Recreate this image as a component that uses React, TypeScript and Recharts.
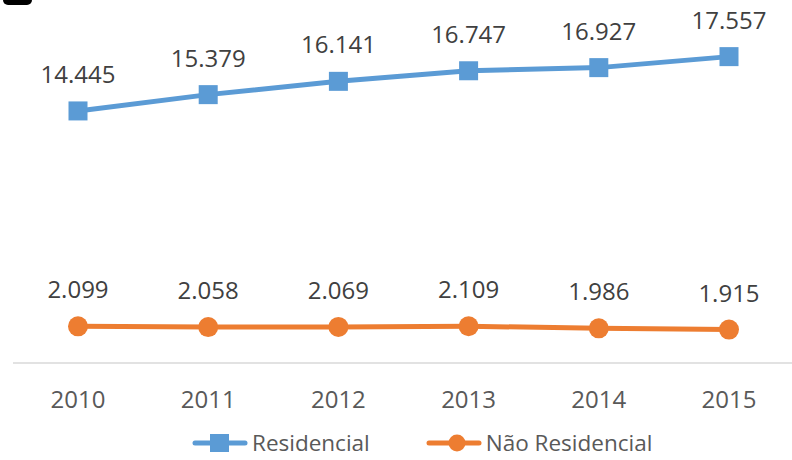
import React from "react";
import { LabelList, Legend, Line, LineChart, XAxis, YAxis } from "recharts";

const years = ["2010", "2011", "2012", "2013", "2014", "2015"];
const residencial = [14.445, 15.379, 16.141, 16.747, 16.927, 17.557];
const naoResidencial = [2.099, 2.058, 2.069, 2.109, 1.986, 1.915];

const BLUE = "#5b9bd5";
const ORANGE = "#ed7d31";
const FONT = "'Open Sans', 'DejaVu Sans', sans-serif";

const data = years.map((year, i) => ({
  year,
  residencial: residencial[i],
  naoResidencial: naoResidencial[i],
}));

// values use a comma-free "14.445" style, three decimals
const formatValue = (v: number) => v.toFixed(3);

function SquareDot(props: any) {
  const { cx, cy } = props;
  if (cx == null || cy == null) return null;
  return <rect x={cx - 9.5} y={cy - 9.5} width={19} height={19} fill={BLUE} />;
}

function RoundDot(props: any) {
  const { cx, cy } = props;
  if (cx == null || cy == null) return null;
  return <circle cx={cx} cy={cy} r={10} fill={ORANGE} />;
}

function LegendIcon(props: { color: string; square?: boolean }) {
  return (
    <svg width={56} height={34} style={{ display: "block" }}>
      <line x1={3} y1={17} x2={53} y2={17} stroke={props.color} strokeWidth={5} strokeLinecap="round" />
      {props.square ? (
        <rect x={18} y={8} width={19} height={18} fill={props.color} />
      ) : (
        <circle cx={31} cy={17} r={8.5} fill={props.color} />
      )}
    </svg>
  );
}

function ChartLegend() {
  const text = { fontFamily: FONT, fontSize: 22.5, color: "#595959", lineHeight: "34px" };
  return (
    <div style={{ display: "flex", alignItems: "center", height: 34, paddingLeft: 192 }}>
      <LegendIcon color={BLUE} square />
      <span style={{ ...text, marginLeft: 4 }}>Residencial</span>
      <span style={{ width: 56 }} />
      <LegendIcon color={ORANGE} />
      <span style={{ ...text, marginLeft: 4 }}>Não Residencial</span>
    </div>
  );
}

const labelStyle = { fill: "#404040", fontSize: 24, fontFamily: FONT };

export default function App() {
  return (
    <div style={{ position: "fixed", left: 0, top: 0, width: 792, height: 460, background: "#fff", overflow: "hidden" }}>
      <LineChart width={792} height={460} data={data} margin={{ top: 14, right: 0, bottom: 0, left: 13 }}>
        <XAxis
          dataKey="year"
          height={63}
          padding={{ left: 65, right: 63 }}
          axisLine={{ stroke: "#d9d9d9", strokeWidth: 1.5 }}
          tickLine={false}
          tickMargin={22}
          tick={{ fill: "#595959", fontSize: 24, fontFamily: FONT }}
        />
        <YAxis hide domain={[0, 20]} />
        <Legend
          verticalAlign="bottom"
          height={34}
          wrapperStyle={{ left: 0, width: 792 }}
          content={() => <ChartLegend />}
        />
        <Line
          dataKey="residencial"
          name="Residencial"
          stroke={BLUE}
          strokeWidth={5}
          dot={<SquareDot />}
          activeDot={false}
          isAnimationActive={false}
        >
          <LabelList dataKey="residencial" position="top" offset={28} formatter={formatValue} style={labelStyle} />
        </Line>
        <Line
          dataKey="naoResidencial"
          name="Não Residencial"
          stroke={ORANGE}
          strokeWidth={5}
          dot={<RoundDot />}
          activeDot={false}
          isAnimationActive={false}
        >
          <LabelList dataKey="naoResidencial" position="top" offset={28} formatter={formatValue} style={labelStyle} />
        </Line>
      </LineChart>
      {/* dark tab peeking in at the top-left corner */}
      <div style={{ position: "absolute", zIndex: 5, left: 3, top: 0, width: 29, height: 5, borderRadius: "0 0 8px 8px", background: "#000" }} />
    </div>
  );
}
